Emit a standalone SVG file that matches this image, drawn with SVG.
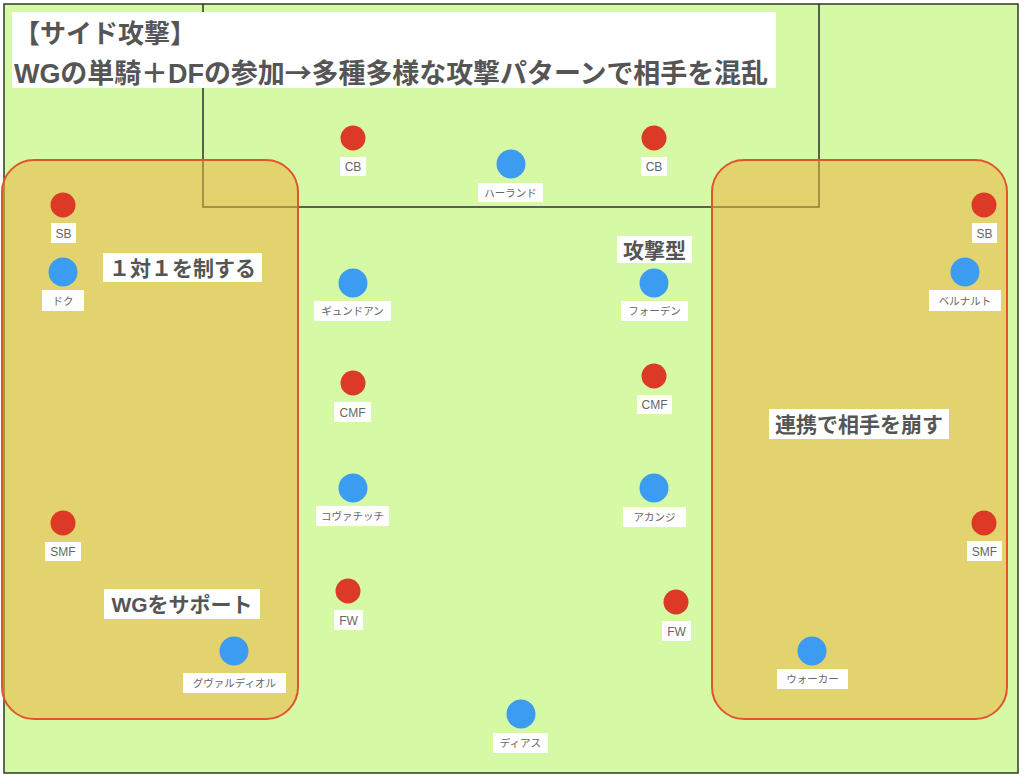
<svg xmlns="http://www.w3.org/2000/svg" width="1024" height="779" viewBox="0 0 1024 779">
<style>
.field{fill:#d6f9a6;stroke:#2f3a2a;stroke-width:1.5}
.pen{fill:none;stroke:#2f2f2f;stroke-width:1.5}
.zone{fill:#ecb440;fill-opacity:0.55;stroke:#e0562a;stroke-width:2}
.red{fill:#dc3a26}
.blue{fill:#3c9cf2}
.lbl{fill:#ffffff}
.t{font-family:'Liberation Sans','Noto Sans CJK JP',sans-serif;font-size:12px;fill:#666666;text-anchor:middle}
.tj{font-family:'Noto Sans CJK JP',sans-serif;font-size:10.5px;fill:#666666;text-anchor:middle}
.big{font-family:'Liberation Sans','Noto Sans CJK JP',sans-serif;font-size:21px;font-weight:bold;fill:#555555;text-anchor:middle}
.title{font-family:'Liberation Sans','Noto Sans CJK JP',sans-serif;font-weight:bold;fill:#555555}
.cjk{font-family:'Noto Sans CJK JP',sans-serif}
</style>
<rect x="0" y="0" width="1024" height="779" fill="#ffffff"/>
<rect class="field" x="4" y="4" width="1014" height="769"/>
<path class="pen" d="M203 4 V207 H819 V4"/>
<g id="zone-left"><rect class="zone" x="2" y="160" width="296" height="559" rx="32"/></g>
<g id="zone-right"><rect class="zone" x="712" y="160" width="295" height="559" rx="32"/></g>
<g id="title">
<rect x="12" y="12" width="764" height="76" fill="#ffffff"/>
<text class="title" x="14" y="43" font-size="26">【サイド攻撃】</text>
<text class="title" x="14" y="83" font-size="27" textLength="754" lengthAdjust="spacing">WGの単騎＋DFの参加<tspan class="cjk">→</tspan>多種多様な攻撃パターンで相手を混乱</text>
</g>
<g id="note-1v1"><rect class="lbl" x="103" y="253" width="159" height="29"/><text class="big" x="182.5" y="275.5">１対１を制する</text></g>
<g id="note-support"><rect class="lbl" x="104" y="589" width="156" height="30"/><text class="big" x="182" y="612">WGをサポート</text></g>
<g id="note-attack"><rect class="lbl" x="617" y="236" width="75" height="27"/><text class="big" x="654.5" y="257.5">攻撃型</text></g>
<g id="note-combo"><rect class="lbl" x="769" y="409" width="180" height="30"/><text class="big" x="859" y="432">連携で相手を崩す</text></g>
<g id="cb-left"><circle class="red" cx="353" cy="138" r="12.5"/><rect class="lbl" x="340" y="157" width="26" height="19"/><text class="t" x="353" y="171">CB</text></g>
<g id="cb-right"><circle class="red" cx="654" cy="138" r="12.5"/><rect class="lbl" x="641" y="157" width="26" height="19"/><text class="t" x="654" y="171">CB</text></g>
<g id="haaland"><circle class="blue" cx="511" cy="164" r="14.5"/><rect class="lbl" x="478" y="183" width="65" height="19"/><text class="tj" x="510.5" y="196.5">ハーランド</text></g>
<g id="sb-left"><circle class="red" cx="63" cy="205" r="12.5"/><rect class="lbl" x="51" y="223" width="25" height="20"/><text class="t" x="63.5" y="237.5">SB</text></g>
<g id="doku"><circle class="blue" cx="63" cy="272" r="14.5"/><rect class="lbl" x="42" y="290" width="42" height="21"/><text class="tj" x="63" y="304.5">ドク</text></g>
<g id="sb-right"><circle class="red" cx="984" cy="205" r="12.5"/><rect class="lbl" x="972" y="223" width="25" height="20"/><text class="t" x="984.5" y="237.5">SB</text></g>
<g id="bernardo"><circle class="blue" cx="965" cy="272" r="14.5"/><rect class="lbl" x="929" y="290" width="72" height="21"/><text class="tj" x="965" y="304.5">ベルナルト</text></g>
<g id="gundogan"><circle class="blue" cx="353" cy="283" r="14.5"/><rect class="lbl" x="314" y="301" width="77" height="20"/><text class="tj" x="352.5" y="315">ギュンドアン</text></g>
<g id="foden"><circle class="blue" cx="654" cy="283" r="14.5"/><rect class="lbl" x="621" y="301" width="67" height="20"/><text class="tj" x="654.5" y="315">フォーデン</text></g>
<g id="cmf-left"><circle class="red" cx="353" cy="383" r="12.5"/><rect class="lbl" x="334" y="402" width="37" height="20"/><text class="t" x="352.5" y="416.5">CMF</text></g>
<g id="cmf-right"><circle class="red" cx="654" cy="376" r="12.5"/><rect class="lbl" x="637" y="395" width="35" height="19"/><text class="t" x="654.5" y="409">CMF</text></g>
<g id="kovacic"><circle class="blue" cx="353" cy="488" r="14.5"/><rect class="lbl" x="316" y="506" width="73" height="20"/><text class="tj" x="352.5" y="520">コヴァチッチ</text></g>
<g id="akanji"><circle class="blue" cx="654" cy="488" r="14.5"/><rect class="lbl" x="623" y="507" width="63" height="20"/><text class="tj" x="654.5" y="521">アカンジ</text></g>
<g id="smf-left"><circle class="red" cx="63" cy="523" r="12.5"/><rect class="lbl" x="45" y="542" width="36" height="19"/><text class="t" x="63" y="556">SMF</text></g>
<g id="smf-right"><circle class="red" cx="984" cy="523" r="12.5"/><rect class="lbl" x="967" y="541" width="35" height="20"/><text class="t" x="984.5" y="555.5">SMF</text></g>
<g id="fw-left"><circle class="red" cx="348" cy="591" r="12.5"/><rect class="lbl" x="334" y="610" width="29" height="20"/><text class="t" x="348.5" y="624.5">FW</text></g>
<g id="fw-right"><circle class="red" cx="676" cy="602" r="12.5"/><rect class="lbl" x="662" y="621" width="29" height="20"/><text class="t" x="676.5" y="635.5">FW</text></g>
<g id="gvardiol"><circle class="blue" cx="234" cy="651" r="14.5"/><rect class="lbl" x="183" y="673" width="103" height="20"/><text class="tj" x="234.5" y="687">グヴァルディオル</text></g>
<g id="walker"><circle class="blue" cx="812" cy="651" r="14.5"/><rect class="lbl" x="777" y="669" width="71" height="20"/><text class="tj" x="812.5" y="683">ウォーカー</text></g>
<g id="dias"><circle class="blue" cx="521" cy="714" r="14.5"/><rect class="lbl" x="493" y="733" width="55" height="20"/><text class="tj" x="520.5" y="747">ディアス</text></g>
<g id="connectors"></g>
</svg>
